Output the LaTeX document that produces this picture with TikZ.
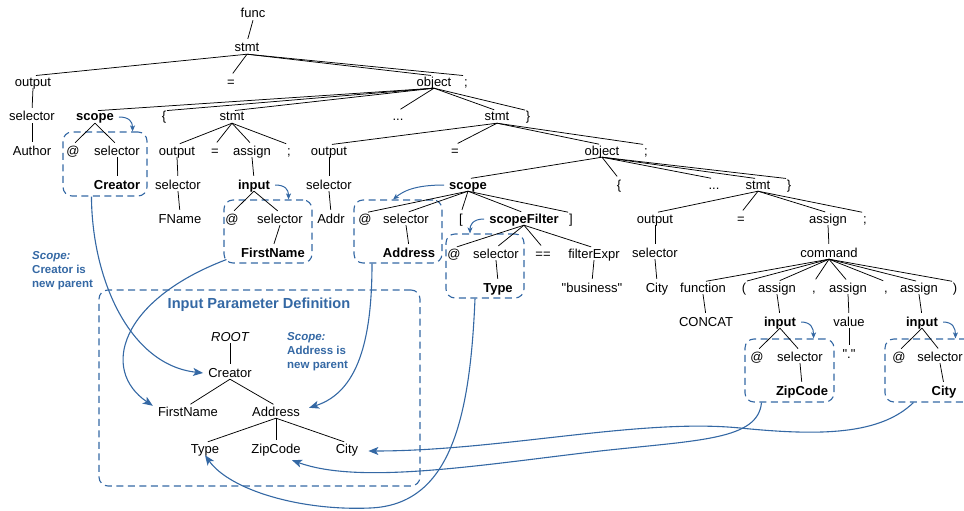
\documentclass[tikz,border=0pt]{standalone}
\usepackage{fontspec}
\setmainfont{Liberation Sans}[Ligatures=TeXOff]
\usetikzlibrary{arrows.meta,calc}
\definecolor{sblue}{RGB}{52,104,164}
\begin{document}
\begin{tikzpicture}[x=1pt,y=-1pt,
  tn/.style={inner xsep=5pt,inner ysep=0pt,text height=10pt,text depth=2pt,font=\fontsize{13}{15}\selectfont},
  bn/.style={tn,font=\fontsize{13}{15}\selectfont\bfseries},
  edge/.style={draw=black,line width=0.75pt,shorten >=3pt},
  dbox/.style={draw=sblue,line width=1.1pt,dash pattern=on 7pt off 4.5pt,rounded corners=9pt,inner sep=0pt},
  blink/.style={draw=sblue,line width=1.1pt,-{Stealth[length=10pt,width=8pt,inset=2.5pt]}},
  sarrow/.style={draw=sblue,line width=1pt,-{Stealth[length=6pt,width=5pt,inset=1.5pt]}},
  lab/.style={text=sblue,font=\fontsize{11.5}{14}\selectfont\bfseries,align=left,inner sep=0pt}
]
\useasboundingbox (0,0) rectangle (964,511);
% dashed boxes
\node[dbox,minimum width=84pt,minimum height=64pt] (bxA) at (105,164) {};
\node[dbox,minimum width=88pt,minimum height=63pt] (bxB) at (268,231.5) {};
\node[dbox,minimum width=88pt,minimum height=63pt] (bxC) at (398,231.5) {};
\node[dbox,minimum width=78pt,minimum height=64pt] (bxD) at (485,266) {};
\node[dbox,minimum width=89pt,minimum height=63pt] (bxE) at (789.5,370.5) {};
\node[dbox,minimum width=90pt,minimum height=63pt] (bxF) at (930,370.5) {};
\node[dbox,minimum width=321pt,minimum height=196pt] (bxP) at (259.5,388) {};
% main tree
\node[tn] (func) at (253,14) {func};
\node[tn] (stmtA) at (247,48) {stmt};
\node[tn] (outA) at (33,82) {output};
\node[tn] (eqA) at (231,82) {=};
\node[tn] (objA) at (434,82) {object};
\node[tn] (scA) at (466,82) {;};
\node[tn] (selA) at (32,117) {selector};
\node[bn] (scopeA) at (95,117) {scope};
\node[tn] (lbA) at (164,117) {\{};
\node[tn] (stmtB) at (232,117) {stmt};
\node[tn] (dotsA) at (398,117) {...};
\node[tn] (stmtC) at (497,117) {stmt};
\node[tn] (rbA) at (528,117) {\}};
\node[tn] (author) at (32,151) {Author};
\node[tn] (atA) at (73,151) {@};
\node[tn] (selB) at (117,151) {selector};
\node[tn] (outB) at (177,151) {output};
\node[tn] (eqB) at (215,151) {=};
\node[tn] (asgB) at (252,151) {assign};
\node[tn] (scB) at (289,151) {;};
\node[tn] (outC) at (329,151) {output};
\node[tn] (eqC) at (455,151) {=};
\node[tn] (objB) at (602,151) {object};
\node[tn] (scC) at (646,151) {;};
\node[bn] (creator) at (117,185) {Creator};
\node[tn] (selC) at (178,185) {selector};
\node[bn] (inputB) at (254,185) {input};
\node[tn] (selD) at (329,185) {selector};
\node[bn] (scopeB) at (468,185) {scope};
\node[tn] (lbB) at (619,185) {\{};
\node[tn] (dotsB) at (714,185) {...};
\node[tn] (stmtD) at (758,185) {stmt};
\node[tn] (rbB) at (789,185) {\}};
\node[tn] (fname) at (180,219) {FName};
\node[tn] (atB) at (232,219) {@};
\node[tn] (selE) at (280,219) {selector};
\node[tn] (addr) at (331,219) {Addr};
\node[tn] (atC) at (365,219) {@};
\node[tn] (selF) at (406,219) {selector};
\node[tn] (lsq) at (461,219) {[};
\node[bn] (scopeF) at (524,219) {scopeFilter};
\node[tn] (rsq) at (571,219) {]};
\node[tn] (outD) at (655,219) {output};
\node[tn] (eqD) at (741,219) {=};
\node[tn] (asgD) at (828,219) {assign};
\node[tn] (scD) at (865,219) {;};
\node[bn] (firstnameB) at (273,253) {FirstName};
\node[bn] (addressB) at (409,253) {Address};
\node[tn] (atD) at (454,254) {@};
\node[tn] (selG) at (496,254) {selector};
\node[tn] (eqeq) at (543,254) {==};
\node[tn] (fexpr) at (594,254) {filterExpr};
\node[tn] (selH) at (655,253) {selector};
\node[tn] (command) at (829,253) {command};
\node[bn] (typeB) at (498,288) {Type};
\node[tn] (business) at (592,288) {"business"};
\node[tn] (cityA) at (657,288) {City};
\node[tn] (function) at (703,288) {function};
\node[tn] (lpar) at (744,288) {(};
\node[tn] (asgE) at (777,288) {assign};
\node[tn] (comma1) at (814,288) {,};
\node[tn] (asgF) at (848,288) {assign};
\node[tn] (comma2) at (886,288) {,};
\node[tn] (asgG) at (919,288) {assign};
\node[tn] (rpar) at (955,288) {)};
\node[tn] (concat) at (706,322) {CONCAT};
\node[bn] (inputC) at (780,322) {input};
\node[tn] (value) at (849,322) {value};
\node[bn] (inputD) at (922,322) {input};
\node[tn] (atE) at (757,357) {@};
\node[tn] (selI) at (800,357) {selector};
\node[tn] (dotq) at (849,354) {"."};
\node[tn] (atF) at (899,357) {@};
\node[tn] (selJ) at (940,357) {selector};
\node[bn] (zipB) at (802,391) {ZipCode};
\node[bn] (cityB) at (944,391) {City};
\foreach \p/\c in {func/stmtA,stmtA/outA,stmtA/eqA,stmtA/objA,stmtA/scA,outA/selA,selA/author,
  objA/scopeA,objA/lbA,objA/stmtB,objA/dotsA,objA/stmtC,objA/rbA,scopeA/atA,scopeA/selB,selB/creator,
  stmtB/outB,stmtB/eqB,stmtB/asgB,stmtB/scB,outB/selC,selC/fname,asgB/inputB,inputB/atB,inputB/selE,selE/firstnameB,
  stmtC/outC,stmtC/eqC,stmtC/objB,stmtC/scC,outC/selD,selD/addr,
  objB/scopeB,objB/lbB,objB/dotsB,objB/stmtD,objB/rbB,
  scopeB/atC,scopeB/selF,scopeB/lsq,scopeB/scopeF,scopeB/rsq,selF/addressB,
  scopeF/atD,scopeF/selG,scopeF/eqeq,scopeF/fexpr,selG/typeB,fexpr/business,
  stmtD/outD,stmtD/eqD,stmtD/asgD,stmtD/scD,outD/selH,selH/cityA,asgD/command,
  command/function,command/lpar,command/asgE,command/comma1,command/asgF,command/comma2,command/asgG,command/rpar,
  function/concat,asgE/inputC,inputC/atE,inputC/selI,selI/zipB,asgF/value,value/dotq,
  asgG/inputD,inputD/atF,inputD/selJ,selJ/cityB}
  \draw[edge] (\p.south) -- (\c.north);
% inner tree
\node[text=sblue,font=\fontsize{14.6}{17}\selectfont\bfseries] (title) at (259,305) {Input Parameter Definition};
\node[tn,font=\fontsize{13}{15}\selectfont\itshape] (root) at (230,337) {ROOT};
\node[tn] (iCreator) at (230,373) {Creator};
\node[tn] (iFirst) at (188,412) {FirstName};
\node[tn] (iAddr) at (276,412) {Address};
\node[tn] (iType) at (205,449) {Type};
\node[tn] (iZip) at (276,449) {ZipCode};
\node[tn] (iCity) at (347,449) {City};
\foreach \p/\c in {root/iCreator,iCreator/iFirst,iCreator/iAddr,iAddr/iType,iAddr/iZip,iAddr/iCity}
  \draw[edge] (\p.south) -- (\c.north);
% labels
\node[lab,anchor=north west] (labA) at (32,251) {\textit{Scope:}\\Creator is\\new parent};
\node[lab,anchor=north west] (labB) at (287,332) {\textit{Scope:}\\Address is\\new parent};
% small arrows
\draw[sarrow] (scopeA.east) .. controls +(10,0) and +(0,-10) .. ($(bxA.north east)+(-15,0)$);
\draw[sarrow] (inputB.east) .. controls +(10,0) and +(0,-10) .. ($(bxB.north east)+(-24,0)$);
\draw[sarrow] (scopeB.west) .. controls +(-30,0) and +(10,-8) .. ($(bxC.north)+(-5,0)$);
\draw[sarrow] (scopeF.west) .. controls +(-12,0) and +(0,-8) .. ($(bxD.north)+(-15,0)$);
\draw[sarrow] (inputC.east) .. controls +(10,0) and +(0,-10) .. ($(bxE.north east)+(-21,0)$);
\draw[sarrow] (inputD.east) .. controls +(10,0) and +(0,-10) .. ($(bxF.north west)+(71,0)$);
% long arrows
\draw[blink] ($(bxA.south west)+(29,0)$) .. controls (92,280) and (130,365) .. (iCreator.west);
\draw[blink] ($(bxB.south west)+(3,-4)$) .. controls (120,300) and (100,370) .. (iFirst.north west);
\draw[blink] ($(bxC.south)+(-26,0)$) .. controls (372,340) and (358,392) .. ($(iAddr.north east)+(4,2)$);
\draw[blink] ($(bxD.south)+(-10,0)$) .. controls (470,420) and (450,505) .. (370,508) .. controls (300,511) and (230,490) .. (iType.south);
\draw[blink] ($(bxE.south)+(-28,0)$) .. controls (758,440) and (700,440) .. (600,451) .. controls (480,465) and (360,485) .. ($(iZip.south)+(16,5)$);
\draw[blink] ($(bxF.south west)+(29,0)$) .. controls (880,435) and (820,436) .. (740,428) .. controls (640,418) and (500,451) .. ($(iCity.east)+(5,2)$);
\end{tikzpicture}
\end{document}
